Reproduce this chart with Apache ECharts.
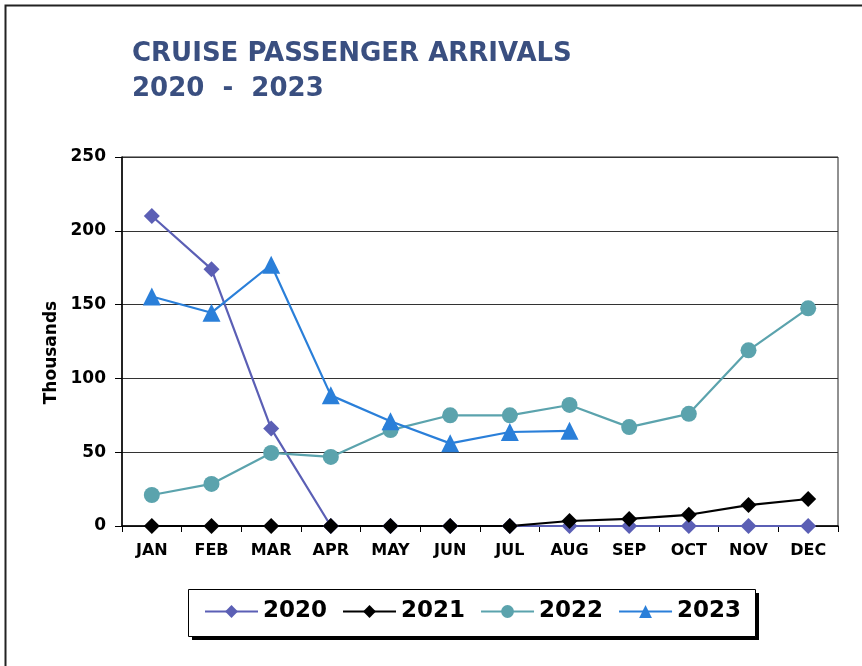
<!DOCTYPE html>
<html>
<head>
<meta charset="utf-8">
<title>Cruise Passenger Arrivals</title>
<script src="https://cdn.jsdelivr.net/npm/echarts@6/dist/echarts.min.js"></script>
<style>
    html, body { margin: 0; padding: 0; background: #fff; }
    #chart { width: 862px; height: 666px; }
</style>
</head>
<body>
<div id="chart"></div>
<script>
// months on the x axis
var months = ['JAN', 'FEB', 'MAR', 'APR', 'MAY', 'JUN', 'JUL', 'AUG', 'SEP', 'OCT', 'NOV', 'DEC'];
// passengers, thousands
var y2020 = [210, 174, 66, 0, 0, 0, 0, 0, 0, 0, 0, 0];
var y2021 = [0, 0, 0, 0, 0, 0, 0, 3.4, 4.8, 7.6, 14.2, 18.3];
var y2022 = [21, 28.5, 49.5, 46.8, 65, 75, 75, 82, 67, 76, 119, 147.5];
var y2023 = [155.5, 144.5, 177, 88.5, 71, 56, 63.7, 64.5, null, null, null, null];
var yTicks = [0, 50, 100, 150, 200, 250];

var font = 'DejaVu Sans';

function line(name, data, color, symbol, size) {
    return {
        name: name,
        type: 'line',
        data: data,
        symbol: symbol,
        symbolSize: size,
        lineStyle: { color: color, width: 2.2 },
        itemStyle: { color: color },
        connectNulls: false,
        z: 2
    };
}

var myChart = echarts.init(document.getElementById('chart'));

var option = {
    animation: false,
    backgroundColor: '#fff',
    textStyle: { fontFamily: font },
    graphic: [
        { // outer frame
            type: 'rect',
            shape: { x: 5.5, y: 5.5, width: 900, height: 700 },
            style: { fill: 'none', stroke: '#222', lineWidth: 2 },
            silent: true
        },
        { // legend shadow
            type: 'rect',
            shape: { x: 192, y: 593, width: 567, height: 47 },
            style: { fill: '#000' },
            silent: true,
            z: 0
        },
        { // legend box
            type: 'rect',
            shape: { x: 188.5, y: 589.5, width: 567, height: 47 },
            style: { fill: '#fff', stroke: '#000', lineWidth: 1 },
            silent: true,
            z: 1
        }
    ],
    title: {
        text: 'CRUISE PASSENGER ARRIVALS\n2020  -  2023',
        left: 127,
        top: 32,
        textStyle: {
            color: '#3a4f80',
            fontSize: 26,
            fontWeight: 'bold',
            fontFamily: font,
            lineHeight: 35
        }
    },
    legend: {
        data: ['2020', '2021', '2022', '2023'],
        left: 204,
        top: 600,
        padding: 0,
        itemWidth: 53,
        itemHeight: 16,
        itemGap: 15,
        z: 5,
        textStyle: {
            color: '#000',
            fontSize: 23,
            fontWeight: 'bold',
            fontFamily: font
        }
    },
    grid: {
        left: 122,
        right: 24,
        top: 157,
        bottom: 140,
        show: true,
        borderColor: '#222',
        borderWidth: 1
    },
    xAxis: {
        type: 'category',
        data: months,
        boundaryGap: true,
        axisLine: { lineStyle: { color: '#000', width: 1.5 } },
        axisTick: { show: true, inside: false, length: 6, lineStyle: { color: '#000' } },
        axisLabel: {
            color: '#000',
            fontSize: 16,
            fontWeight: 'bold',
            fontFamily: font,
            margin: 17
        }
    },
    yAxis: {
        type: 'value',
        min: yTicks[0],
        max: yTicks[yTicks.length - 1],
        interval: 50,
        name: 'Thousands',
        nameLocation: 'middle',
        nameGap: 56,
        nameRotate: 90,
        nameTextStyle: {
            color: '#000',
            fontSize: 17,
            fontWeight: 'bold',
            fontFamily: font,
            padding: [0, 22, 0, 0]
        },
        axisLine: { show: true, lineStyle: { color: '#000', width: 1.5 } },
        axisTick: { show: true, length: 7, lineStyle: { color: '#000' } },
        axisLabel: {
            color: '#000',
            fontSize: 17,
            fontWeight: 'bold',
            fontFamily: font,
            margin: 16
        },
        splitLine: { lineStyle: { color: '#333', width: 1 } }
    },
    series: [
        line('2020', y2020, '#5b5fb5', 'diamond', 16),
        line('2021', y2021, '#000000', 'diamond', 16),
        line('2022', y2022, '#5ba3ad', 'circle', 16),
        line('2023', y2023, '#2a7fd9', 'triangle', 18)
    ]
};

myChart.setOption(option);
</script>
</body>
</html>
